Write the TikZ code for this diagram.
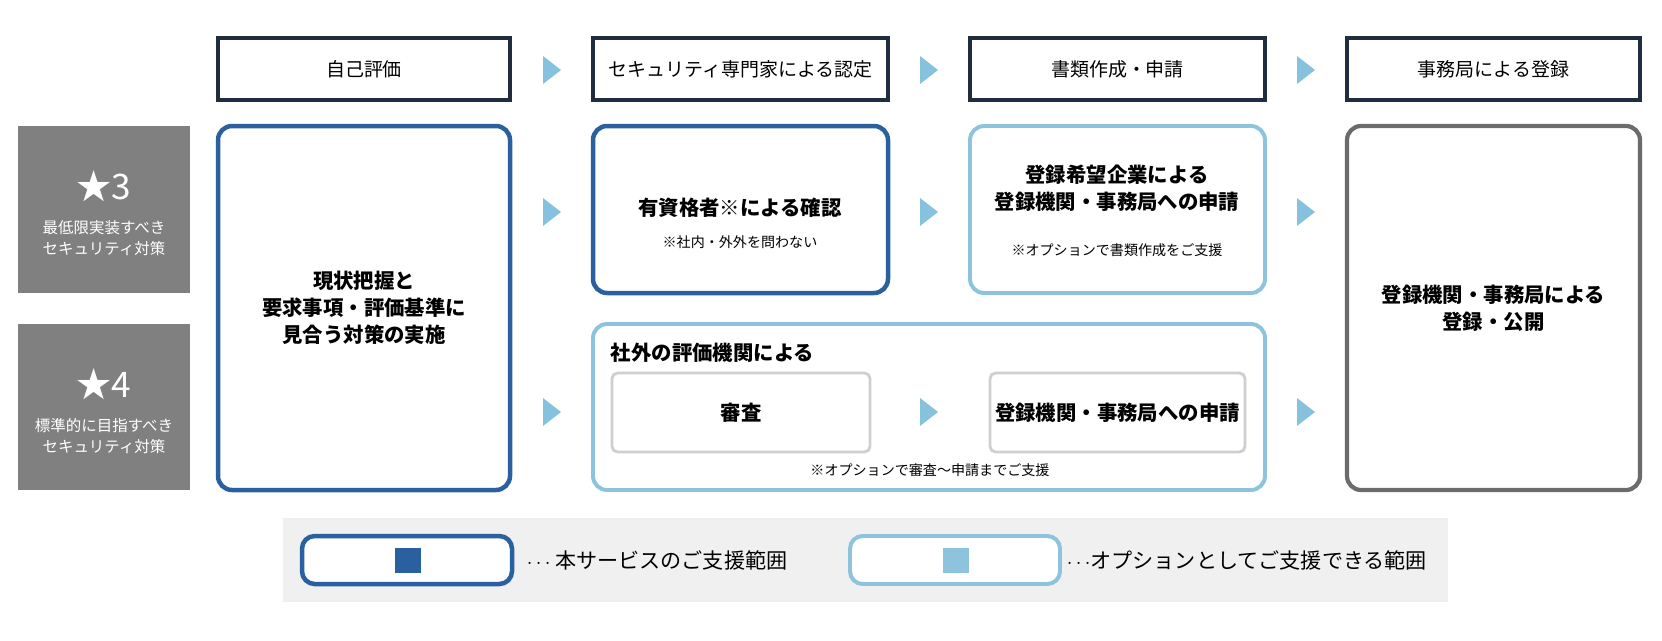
\documentclass[tikz,border=0pt]{standalone}
\usepackage{fontspec}
\setmainfont{Noto Sans CJK JP}
\usetikzlibrary{positioning}
\definecolor{navy}{HTML}{1F2D3F}
\definecolor{dblue}{HTML}{2A5FA0}
\definecolor{lblue}{HTML}{8DC3DD}
\definecolor{arr}{HTML}{86C2DE}
\definecolor{lvl}{HTML}{808080}
\definecolor{reg}{HTML}{6B6B6B}
\definecolor{inner}{HTML}{CFCFCF}
\tikzset{
  head/.style={draw=navy,line width=2.2pt,fill=white},
  main/.style={draw=dblue,line width=3.2pt,rounded corners=10pt,fill=white},
  opt/.style={draw=lblue,line width=2.8pt,rounded corners=10pt,fill=white},
  sub/.style={draw=inner,line width=2pt,rounded corners=4pt,fill=white},
  tri/.style={fill=arr},
  txt/.style={font=\fontsize{13.5}{16}\selectfont,align=center},
  big/.style={font=\fontsize{14.5}{19}\selectfont\bfseries,align=center},
  note/.style={font=\fontsize{10}{12}\selectfont,align=center},
  star/.style={text=white,font=\fontsize{25}{27}\selectfont}
}
\begin{document}
\begin{tikzpicture}[x=0.025cm,y=-0.025cm]
  \useasboundingbox (0,0) rectangle (1662,640);
  % header row
  \draw[head] (218,38) rectangle node[txt] (h1) {自己評価} (510,100);
  \draw[head] (593,38) rectangle node[txt] (h2) {セキュリティ専門家による認定} (888,100);
  \draw[head] (970,38) rectangle node[txt] (h3) {書類作成・申請} (1265,100);
  \draw[head] (1347,38) rectangle node[txt] (h4) {事務局による登録} (1640,100);
  % level labels
  \fill[lvl] (18,126) rectangle (190,293);
  \fill[lvl] (18,324) rectangle (190,490);
  \node[star] (s3) at (104,186) {★3};
  \node[text=white,note,font=\fontsize{11}{15}\selectfont] (s3t) at (104,238) {最低限実装すべき\\セキュリティ対策};
  \node[star] (s4) at (104,384) {★4};
  \node[text=white,note,font=\fontsize{11}{15}\selectfont] (s4t) at (104,436) {標準的に目指すべき\\セキュリティ対策};
  % boxes
  \draw[main] (218,126) rectangle node[big] (self) {現状把握と\\要求事項・評価基準に\\見合う対策の実施} (510,490);
  \draw[main] (593,126) rectangle (888,293);
  \node[big] (chk) at (740,208) {有資格者※による確認};
  \node[note] (chkn) at (740,242) {※社内・外外を問わない};
  \draw[opt] (970,126) rectangle (1265,293);
  \node[big] (app) at (1117,188) {登録希望企業による\\登録機関・事務局への申請};
  \node[note] (appn) at (1117,250) {※オプションで書類作成をご支援};
  \draw[opt] (593,324) rectangle (1265,490);
  \node[big,anchor=west] (ext) at (606,353) {社外の評価機関による};
  \draw[sub] (612,373) rectangle node[big] (aud) {審査} (870,452);
  \draw[sub] (990,373) rectangle node[big] (app2) {登録機関・事務局への申請} (1245,452);
  \node[note] (extn) at (930,470) {※オプションで審査～申請までご支援};
  \draw[draw=reg,line width=3pt,rounded corners=10pt] (1347,126) rectangle node[big] (done) {登録機関・事務局による\\登録・公開} (1640,490);
  % arrows
  \foreach \x in {551,928,1305} {
    \foreach \y in {70,212,412} \fill[tri] (\x-8,\y-14) -- (\x+10,\y) -- (\x-8,\y+14) -- cycle;
  }
  % legend
  \fill[black!6] (283,518) rectangle (1448,602);
  \draw[main,rounded corners=9pt] (302,536) rectangle (512,584);
  \fill[dblue] (395,548) rectangle (421,573);
  \node[txt,anchor=west,font=\fontsize{15}{18}\selectfont] (lg1) at (522,560) {$\cdots$ 本サービスのご支援範囲};
  \draw[opt,rounded corners=9pt] (850,536) rectangle (1060,584);
  \fill[lblue] (943,548) rectangle (969,573);
  \node[txt,anchor=west,font=\fontsize{15}{18}\selectfont] (lg2) at (1062,560) {$\cdots$オプションとしてご支援できる範囲};
\end{tikzpicture}
\end{document}
